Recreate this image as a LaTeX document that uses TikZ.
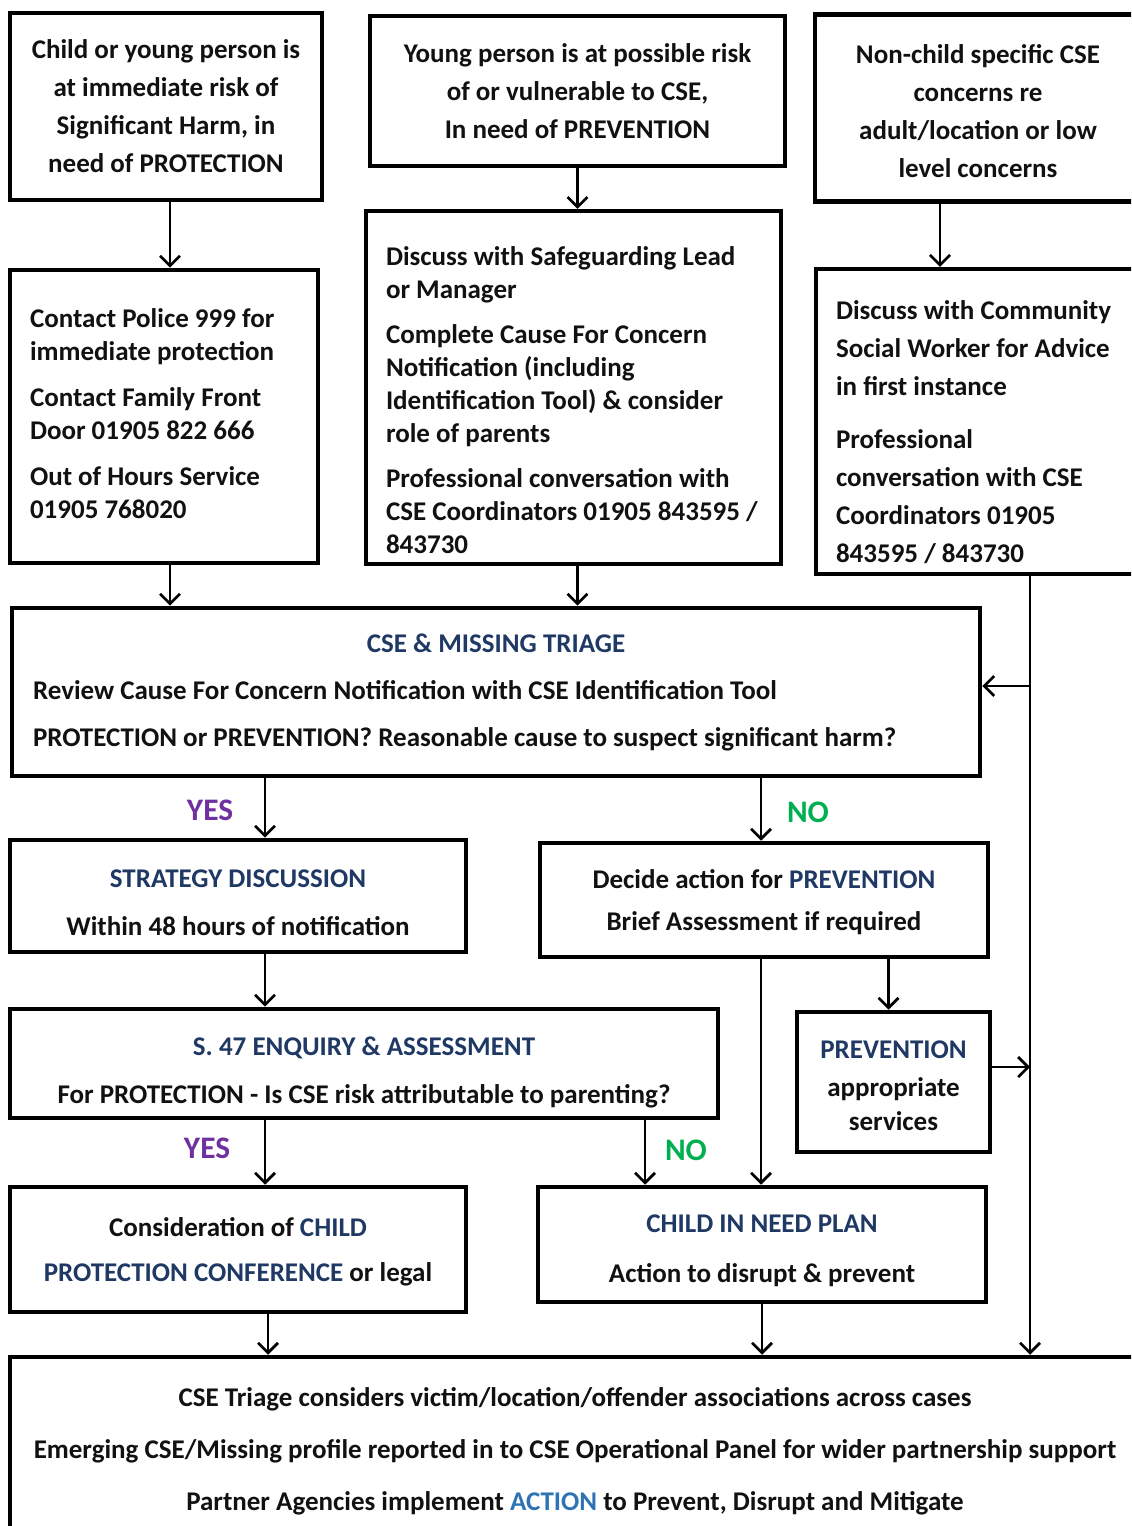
\documentclass[tikz,border=0pt]{standalone}
\usepackage{fontspec}
\setmainfont{Carlito}
\usetikzlibrary{arrows.meta,calc}
\definecolor{dblue}{HTML}{1F3864}
\definecolor{mblue}{HTML}{2E74B5}
\definecolor{yescol}{HTML}{7030A0}
\definecolor{nocol}{HTML}{00B050}
\definecolor{txt}{HTML}{111111}
\begin{document}
\begin{tikzpicture}[x=0.75pt,y=-0.75pt,
  box/.style={draw=black, line width=3.4pt, inner sep=0pt, text=txt,
    font=\bfseries\fontsize{20.25}{28.5}\selectfont},
  lbox/.style={box, align=flush left},
  cbox/.style={box, align=center},
  conn/.style={draw=black, line width=2pt,
    -{Straight Barb[length=7.5pt,width=15pt,line width=2pt]}},
  yes/.style={text=yescol, font=\bfseries\fontsize{23.5}{26}\selectfont, inner sep=0pt},
  no/.style={text=nocol, font=\bfseries\fontsize{23.5}{26}\selectfont, inner sep=0pt},
]
\useasboundingbox (0,0) rectangle (1131,1526);
\fill[white] (0,0) rectangle (1131,1526);
\clip (0,0) rectangle (1131,1526);

% top row
\node[cbox, minimum width=234pt, minimum height=140.25pt] (A1) at (166,106.5)
  {Child or young person is\\ at immediate risk of\\ Significant Harm, in\\ need of PROTECTION};
\node[cbox, minimum width=311.25pt, minimum height=112.5pt] (A2) at (577.5,91)
  {Young person is at possible risk\\ of or vulnerable to CSE,\\ In need of PREVENTION};
\node[cbox, minimum width=244.5pt, minimum height=140.25pt] (A3) at (978,108)
  {\rule{0pt}{19pt}Non-child specific CSE\\ concerns re\\ adult/location or low\\ level concerns};

% second row
\node[lbox, text width=201pt, minimum width=231pt, minimum height=219.75pt,
  font=\bfseries\fontsize{20.25}{24.75}\selectfont] (B1) at (164,416.5)
  {\begin{tabular}{@{}l@{}}Contact Police 999 for\\ immediate protection\\[9.75pt] Contact Family Front\\ Door 01905 822 666\\[9.75pt] Out of Hours Service\\ 01905 768020\end{tabular}};
\node[lbox, text width=281.25pt, minimum width=311.25pt, minimum height=261.75pt,
  font=\bfseries\fontsize{20.25}{24.75}\selectfont] (B2) at (573.5,387.5)
  {\begin{tabular}{@{}l@{}}\rule{0pt}{41pt}Discuss with Safeguarding Lead\\ or Manager\\[9pt] Complete Cause For Concern\\ Notification (including\\ Identification Tool) \& consider\\ role of parents\\[9pt] Professional conversation with\\ CSE Coordinators 01905 843595 /\\ 843730\end{tabular}};
\node[lbox, text width=220.5pt, minimum width=250.5pt, minimum height=227.25pt,
  font=\bfseries\fontsize{20.25}{28.5}\selectfont] (B3) at (983,421.5)
  {\begin{tabular}{@{}l@{}}\rule{0pt}{38pt}Discuss with Community\\ Social Worker for Advice\\ in first instance\\[11pt] Professional\\ conversation with CSE\\ Coordinators 01905\\ 843595 / 843730\end{tabular}};

% triage
\node[lbox, text width=694.5pt, minimum width=726pt, minimum height=126pt,
  font=\bfseries\fontsize{20.25}{35.25}\selectfont] (C) at (496,692)
  {\makebox[\linewidth][c]{\textcolor{dblue}{CSE \& MISSING TRIAGE}}\\
   Review Cause For Concern Notification with CSE Identification Tool\\
   PROTECTION or PREVENTION? Reasonable cause to suspect significant harm?};

% decision row
\node[cbox, minimum width=342pt, minimum height=84pt,
  font=\bfseries\fontsize{20.25}{36}\selectfont] (D1) at (238,896)
  {\rule{0pt}{23pt}\textcolor{dblue}{STRATEGY DISCUSSION}\\ Within 48 hours of notification};
\node[cbox, minimum width=336pt, minimum height=85.5pt,
  font=\bfseries\fontsize{20.25}{31.5}\selectfont] (D2) at (764,900)
  {\rule{0pt}{18pt}Decide action for \textcolor{dblue}{PREVENTION}\\ Brief Assessment if required};

\node[cbox, minimum width=531pt, minimum height=81.75pt,
  font=\bfseries\fontsize{20.25}{36}\selectfont] (E1) at (364,1063.5)
  {\rule{0pt}{27pt}\textcolor{dblue}{S. 47 ENQUIRY \& ASSESSMENT}\\ For PROTECTION - Is CSE risk attributable to parenting?};
\node[cbox, minimum width=144.75pt, minimum height=105pt,
  font=\bfseries\fontsize{20.25}{25.5}\selectfont] (PREV) at (893.5,1082)
  {\rule{0pt}{19pt}\textcolor{dblue}{PREVENTION}\\[3pt] appropriate\\ services};

\node[cbox, minimum width=342pt, minimum height=93.75pt,
  font=\bfseries\fontsize{20.25}{34}\selectfont] (F1) at (238,1249.5)
  {\rule{0pt}{18pt}Consideration of \textcolor{dblue}{CHILD}\\ \textcolor{dblue}{PROTECTION CONFERENCE} or legal};
\node[cbox, minimum width=336pt, minimum height=86.25pt,
  font=\bfseries\fontsize{20.25}{37.5}\selectfont] (F2) at (762,1244.5)
  {\rule{0pt}{23pt}\textcolor{dblue}{CHILD IN NEED PLAN}\\ Action to disrupt \& prevent};

\node[cbox, minimum width=847.5pt, minimum height=141pt,
  font=\bfseries\fontsize{20.25}{39}\selectfont] (G) at (575,1451)
  {CSE Triage considers victim/location/offender associations across cases\\
   Emerging CSE/Missing profile reported in to CSE Operational Panel for wider partnership support\\
   Partner Agencies implement \textcolor{mblue}{ACTION} to Prevent, Disrupt and Mitigate};

% labels
\node[yes] (yes1) at (210,810) {YES};
\node[no]  (no1)  at (808,812) {NO};
\node[yes] (yes2) at (207,1148) {YES};
\node[no]  (no2)  at (686,1150) {NO};

% helper coordinates
\coordinate (a3s) at ($(A3.south)+(-38,0)$);
\coordinate (trunk) at ($(B3.south)+(47,0)$);
\coordinate (d1x) at ($(D1.north)+(27,0)$);
\coordinate (d1s) at ($(D1.south)+(27,0)$);
\coordinate (f1x) at ($(F1.north)+(27,0)$);
\coordinate (f1s) at ($(F1.south)+(30,0)$);
\coordinate (f2x) at ($(F2.north)+(-117,0)$);
\coordinate (a1s) at ($(A1.south)+(4,0)$);
\coordinate (b1s) at ($(B1.south)+(6,0)$);
\coordinate (b2s) at ($(B2.south)+(4,0)$);

% connectors
\draw[conn] (a1s) -- (a1s |- B1.north);
\draw[conn] (A2.south) -- (A2.south |- B2.north);
\draw[conn] (a3s) -- (a3s |- B3.north);
\draw[conn] (b1s) -- (b1s |- C.north);
\draw[conn] (b2s) -- (b2s |- C.north);
\draw[conn] (trunk) -- (trunk |- G.north);
\draw[conn] ($(trunk |- C.east)+(0,-6)$) -- ($(C.east)+(0,-6)$);
\draw[conn] (d1x |- C.south) -- (d1x);
\draw[conn] ($(D2.north |- C.south)+(-3,0)$) -- ($(D2.north)+(-3,0)$);
\draw[conn] (d1s) -- (d1s |- E1.north);
\draw[conn] ($(D2.south)+(-3,0)$) -- ($(D2.south |- F2.north)+(-3,0)$);
\draw[conn] ($(PREV.north |- D2.south)+(-5,0)$) -- ($(PREV.north)+(-5,0)$);
\draw[conn] ($(PREV.east)+(0,-15)$) -- ($(PREV.east -| trunk)+(0,-15)$);
\draw[conn] (f1x |- E1.south) -- (f1x);
\draw[conn] (f2x |- E1.south) -- (f2x);
\draw[conn] (f1s) -- (f1s |- G.north);
\draw[conn] (F2.south) -- (F2.south |- G.north);
\end{tikzpicture}
\end{document}
